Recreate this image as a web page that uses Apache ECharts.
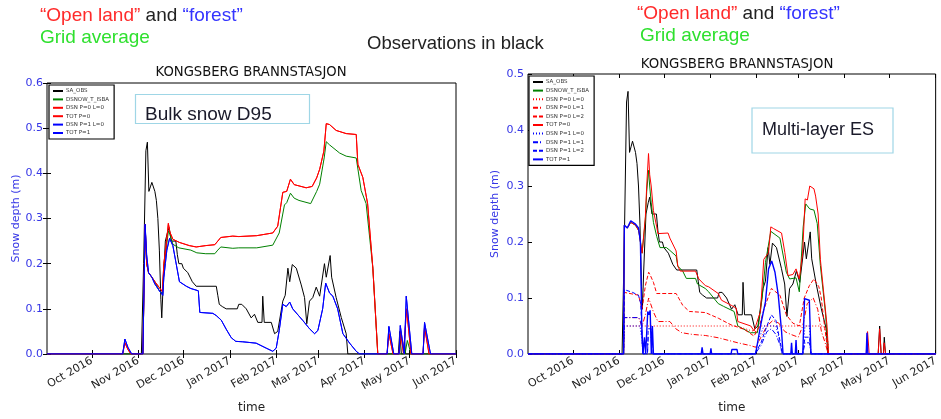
<!DOCTYPE html>
<html>
<head>
<meta charset="utf-8">
<script src="https://cdn.jsdelivr.net/npm/echarts@6/dist/echarts.min.js"></script>
<style>html,body{margin:0;padding:0;background:#fff}#c{width:941px;height:419px}</style>
</head>
<body>
<div id="c"></div>
<script>
// x values: days since 1 Sep 2016
const TICK_DAYS = [30, 61, 91, 122, 153, 181, 212, 242, 273];
const TICK_LABELS = ['Oct 2016','Nov 2016','Dec 2016','Jan 2017','Feb 2017','Mar 2017','Apr 2017','May 2017','Jun 2017'];
const Y_TICKS_LEFT = [0, 0.1, 0.2, 0.3, 0.4, 0.5, 0.6];
const Y_TICKS_RIGHT = [0, 0.1, 0.2, 0.3, 0.4, 0.5];

const LEGEND_LEFT = ['SA_OBS','DSNOW_T_ISBA','DSN P=0 L=0','TOT P=0','DSN P=1 L=0','TOT P=1'];
const LEGEND_RIGHT = ['SA_OBS','DSNOW_T_ISBA','DSN P=0 L=0','DSN P=0 L=1','DSN P=0 L=2','TOT P=0','DSN P=1 L=0','DSN P=1 L=1','DSN P=1 L=2','TOT P=1'];

// Observations (same station in both panels)
const SA_OBS = [[0,0],[63,0],[64.5,0.2],[66,0.45],[67,0.469],[68,0.36],[69,0.37],[70,0.38],[71,0.38],[72,0.36],[73,0.34],[74,0.3],[75,0.23],[76,0.12],[76.6,0.08],[77.5,0.15],[79,0.25],[80.5,0.27],[81.5,0.28],[83,0.25],[86,0.25],[87,0.22],[88,0.2],[90,0.2],[91,0.19],[94,0.18],[97,0.16],[99.6,0.15],[113,0.15],[114,0.13],[115,0.11],[117,0.105],[119.6,0.1],[127,0.1],[128,0.11],[130,0.11],[133,0.1],[136.3,0.08],[138.5,0.088],[140.7,0.07],[143.5,0.07],[144,0.128],[145,0.07],[149.7,0.07],[151.9,0.045],[154,0.05],[157.4,0.117],[159,0.13],[160.8,0.19],[162,0.16],[163.7,0.198],[166.4,0.19],[169.7,0.153],[171.9,0.125],[173.4,0.067],[175.2,0.117],[177.4,0.125],[179.7,0.148],[182,0.128],[185.2,0.2],[186.4,0.17],[189,0.218],[190,0.17],[193,0.125],[196.4,0.081],[199.7,0.045],[200.8,0],[234.5,0],[235.5,0.05],[236.5,0],[238,0],[238.6,0.03],[239.4,0],[273,0]];

// Bulk snow D95 panel
const BULK_ISBA = [[0,0],[64,0],[65.5,0.287],[66.5,0.2],[67.8,0.18],[70,0.17],[72,0.16],[75,0.14],[77,0.135],[78,0.19],[79.5,0.23],[81,0.272],[82,0.265],[84,0.243],[88,0.235],[96,0.23],[100,0.224],[106,0.222],[112,0.222],[114,0.23],[116,0.237],[124,0.234],[128,0.235],[140,0.235],[150.7,0.241],[155,0.268],[158.5,0.33],[160,0.335],[162.5,0.356],[165,0.345],[168.2,0.34],[176,0.333],[180,0.36],[182,0.376],[185,0.434],[186.4,0.47],[188.6,0.463],[195.3,0.445],[199.7,0.438],[206.4,0.434],[209.7,0.362],[213,0.333],[217.5,0.19],[220.8,0],[239,0],[240.5,0.03],[243,0],[273,0]];
const BULK_P0 = [[0,0],[50.5,0],[52,0.025],[54,0.01],[56,0],[64,0],[65.5,0.287],[66.5,0.2],[67.8,0.18],[70,0.17],[72,0.16],[75,0.147],[77,0.138],[78,0.2],[79.5,0.24],[81,0.289],[82,0.27],[84,0.254],[88.4,0.247],[95,0.24],[99.6,0.237],[106,0.24],[112,0.242],[114,0.25],[116,0.258],[124,0.261],[128,0.26],[140,0.262],[150.7,0.268],[154,0.283],[157.4,0.358],[160,0.36],[162.5,0.387],[165,0.375],[173,0.368],[177,0.371],[180,0.39],[182,0.409],[184.8,0.449],[186.4,0.51],[188.6,0.508],[193,0.495],[199.7,0.488],[206.4,0.486],[207.5,0.42],[210.8,0.391],[214,0.333],[217.5,0.19],[220.8,0],[227,0],[228.2,0.045],[231,0],[235,0],[236,0.05],[238,0],[239,0],[240,0.1],[243,0],[251,0],[252,0.06],[255,0],[273,0]];
const BULK_P1 = [[0,0],[50.5,0],[52,0.033],[54,0.015],[56.5,0],[64,0],[65.5,0.287],[66.5,0.22],[67.8,0.18],[70,0.17],[72,0.155],[75,0.14],[77.3,0.13],[78,0.17],[79,0.2],[80,0.23],[81.8,0.256],[84,0.24],[86,0.204],[88.4,0.16],[93,0.15],[96,0.145],[101,0.14],[102,0.092],[110.7,0.09],[113,0.085],[116.3,0.075],[119.6,0.055],[123,0.036],[126,0.028],[130.7,0.027],[139.6,0.024],[146.3,0.013],[150.7,0.006],[153,0.013],[155,0.052],[157.4,0.11],[159.7,0.105],[162,0.115],[164,0.1],[170.8,0.074],[175.2,0.056],[178.6,0.045],[180.8,0.052],[184,0.1],[186,0.157],[188.6,0.135],[190.8,0.128],[194,0.1],[197.5,0.045],[202,0.024],[206.4,0.006],[208.6,0],[227,0],[228.2,0.061],[231.5,0],[235,0],[235.8,0.063],[238.5,0],[239,0],[239.8,0.128],[243.5,0],[251,0],[252,0.07],[256,0],[273,0]];

// Multi-layer ES panel
const ES_ISBA = [[0,0],[64,0],[64.5,0.23],[66.5,0.225],[68.8,0.235],[70,0.238],[72,0.23],[74.2,0.22],[76.4,0.18],[78.6,0.24],[79.5,0.29],[80.7,0.328],[81.5,0.3],[82.5,0.27],[84,0.235],[86.2,0.21],[88.4,0.19],[92.7,0.19],[95,0.185],[99.2,0.175],[100.3,0.157],[103.6,0.148],[106,0.135],[112.2,0.135],[113.5,0.125],[118.7,0.117],[121,0.111],[127.4,0.09],[131,0.085],[138,0.076],[140.5,0.05],[149,0.038],[153.6,0.038],[156.8,0.1],[159,0.163],[162.6,0.219],[168.7,0.207],[173,0.146],[175.2,0.134],[179.5,0.136],[181.7,0.111],[184.3,0.227],[186,0.268],[188.7,0.259],[191.5,0.257],[193.7,0.233],[195.8,0.158],[199.1,0.076],[201.3,0],[273,0]];
const ES_TOT_P0 = [[0,0],[64,0],[64.5,0.23],[66.5,0.225],[68.8,0.235],[70,0.238],[72,0.23],[74.2,0.22],[76.4,0.18],[78.6,0.245],[79.5,0.3],[80.7,0.358],[81.5,0.32],[82.5,0.3],[84,0.256],[86.2,0.227],[87,0.215],[93.8,0.216],[95,0.207],[99.2,0.184],[100.3,0.157],[102,0.148],[112.2,0.148],[114.4,0.134],[118.8,0.122],[121,0.12],[127.4,0.108],[129.6,0.096],[136.1,0.087],[139.4,0.082],[140.5,0.058],[149.2,0.05],[151.4,0.041],[155.7,0.076],[157.9,0.169],[161.1,0.181],[162.6,0.227],[164.4,0.224],[169.8,0.216],[172,0.181],[174.1,0.14],[177.4,0.142],[179.5,0.152],[181.7,0.134],[183.9,0.18],[185.6,0.277],[187.1,0.275],[188.7,0.3],[191.5,0.295],[192.6,0.282],[194.3,0.25],[195.8,0.169],[198,0.11],[200.2,0.052],[201.3,0],[226.5,0],[227.4,0.04],[228.5,0],[234.5,0],[235.5,0.045],[236.5,0],[238,0],[238.5,0.02],[239.5,0],[273,0]];
const ES_P0_L0 = [[0,0],[64,0],[64.5,0.05],[140,0.05],[149,0.042],[153,0.04],[156,0.05],[198,0.05],[200.5,0.03],[201.3,0],[273,0]];
const ES_P0_L1 = [[0,0],[64,0],[64.5,0.065],[74,0.065],[76.4,0.05],[78.6,0.07],[80.8,0.1],[84,0.075],[87,0.058],[95,0.058],[99,0.045],[103,0.038],[110,0.035],[119,0.033],[127.4,0.029],[140.5,0.02],[149,0.015],[152.5,0.012],[156,0.03],[160,0.05],[164,0.06],[168,0.055],[172,0.04],[176,0.035],[181,0.03],[184,0.05],[187,0.09],[191,0.1],[194,0.08],[196.5,0.04],[199,0.02],[201,0],[273,0]];
const ES_P0_L2 = [[0,0],[64,0],[64.5,0.11],[74,0.105],[76.4,0.08],[78.6,0.122],[80.8,0.146],[82,0.14],[84,0.128],[86.2,0.108],[99.2,0.108],[103.6,0.087],[108,0.076],[118.8,0.074],[127.4,0.064],[136,0.052],[144.8,0.044],[151.4,0.032],[155,0.05],[158,0.08],[163,0.117],[168.7,0.105],[173,0.07],[177.4,0.055],[181.7,0.05],[185,0.1],[188.4,0.122],[191.5,0.134],[194.8,0.12],[196.4,0.1],[198.6,0.05],[201,0],[273,0]];
const ES_TOT_P1 = [[0,0],[64,0],[64.5,0.23],[66.5,0.225],[68.8,0.238],[70,0.24],[72,0.232],[74,0.225],[75.3,0.2],[76.2,0.05],[77,0],[78,0.03],[78.8,0],[79.6,0],[80.2,0.076],[81,0.07],[81.8,0.078],[82.6,0],[83.3,0.05],[84,0],[116,0],[116.6,0.012],[117.2,0],[122,0],[122.5,0.01],[123,0],[136,0],[136.5,0.008],[140,0.008],[140.5,0],[152.4,0],[155.7,0.05],[159,0.093],[161.1,0.152],[163.2,0.166],[165.4,0.146],[167.6,0.105],[169.8,0.041],[170.8,0],[176,0],[176.5,0.02],[177,0],[179,0],[179.5,0.025],[180,0],[184,0],[185.2,0.099],[188.4,0.096],[189.5,0],[226.5,0],[227,0.038],[227.6,0],[273,0]];
const ES_P1_L0 = [[0,0],[64,0],[64.5,0.05],[75,0.05],[76,0.03],[77,0],[152,0],[155,0.03],[158,0.05],[166,0.05],[168,0.03],[170,0],[184,0],[185.5,0.05],[188.5,0.05],[189.5,0],[273,0]];
const ES_P1_L1 = [[0,0],[64,0],[64.5,0.065],[74,0.065],[75.5,0.06],[77,0],[80,0],[80.5,0.03],[82.5,0.03],[83,0],[152,0],[156,0.015],[160,0.04],[163,0.045],[166,0.035],[169,0.015],[170.5,0],[184,0],[185.5,0.02],[188.5,0.02],[189.5,0],[273,0]];
const ES_P1_L2 = [[0,0],[64,0],[64.5,0.115],[70,0.11],[74,0.105],[75.5,0.09],[77,0],[80,0],[80.5,0.045],[82.5,0.045],[83,0],[152,0],[156,0.02],[160,0.05],[163,0.07],[166,0.06],[169,0.02],[170.5,0],[184,0],[185.5,0.03],[188.5,0.03],[189.5,0],[273,0]];

const BLACK = '#000000', GREEN = '#008000', RED = '#ff0000', BLUE = '#0000ff';
const DOT = [1, 2], DASHDOT = [5, 2, 1, 2], DASH = [4, 2];
const AX_BLUE = '#3535e6';
const FONT = 'DejaVu Sans';

function mk(name, data, color, grid, type, width) {
  return {
    name, type: 'line', data, color, symbol: 'none', showSymbol: false,
    xAxisIndex: grid === 0 ? 0 : 2, yAxisIndex: grid === 0 ? 0 : 2,
    lineStyle: { color, width: width || 1, type: type || 'solid' },
    emphasis: { disabled: true }, animation: false, silent: true
  };
}

function xAx(grid, pos) {
  const bottom = pos === 'bottom';
  return {
    type: 'value', gridIndex: grid, position: pos, min: 0, max: 273,
    axisLine: { show: false },
    splitLine: { show: false },
    axisTick: { show: true, inside: true, length: 4, customValues: TICK_DAYS, lineStyle: { color: '#000' } },
    axisLabel: {
      show: bottom, customValues: TICK_DAYS, rotate: 30, margin: 6,
      color: '#222', fontFamily: FONT, fontSize: 11,
      formatter: v => { const i = TICK_DAYS.indexOf(Math.round(v)); return i >= 0 ? TICK_LABELS[i] : ''; }
    },
    name: bottom ? 'time' : '', nameLocation: 'middle', nameGap: 48,
    nameTextStyle: { color: '#222', fontFamily: FONT, fontSize: 12 }
  };
}

function yAx(grid, pos, ticks) {
  const left = pos === 'left';
  return {
    type: 'value', gridIndex: grid, position: pos, min: 0, max: ticks[ticks.length - 1], interval: 0.1,
    axisLine: { show: false }, splitLine: { show: false },
    axisTick: { show: true, inside: true, length: 4, lineStyle: { color: '#000' } },
    axisLabel: { show: left, color: AX_BLUE, fontFamily: FONT, fontSize: 11, margin: 4, formatter: v => v.toFixed(1) },
    name: left ? 'Snow depth (m)' : '', nameLocation: 'middle', nameRotate: 90, nameGap: grid === 0 ? 25 : 27,
    nameTextStyle: { color: AX_BLUE, fontFamily: FONT, fontSize: 11 }
  };
}

const legendBase = {
  orient: 'vertical', itemWidth: 10, itemHeight: 6, itemGap: 2.4,
  borderColor: '#000', borderWidth: 1.2, backgroundColor: '#fff',
  padding: [3, 5, 3, 3], selectedMode: false,
  itemStyle: { opacity: 0 },
  textStyle: { fontSize: 5.5, color: '#333', fontFamily: FONT, padding: [0, 0, 0, -2] }
};

const chart = echarts.init(document.getElementById('c'), null, { renderer: 'canvas' });
chart.setOption({
  backgroundColor: '#fff',
  animation: false,
  grid: [
    { left: 47, top: 83, width: 409, height: 278, show: true, borderColor: '#000', borderWidth: 1, backgroundColor: 'transparent' },
    { left: 528, top: 74, width: 419, height: 286, show: true, borderColor: '#000', borderWidth: 1, backgroundColor: 'transparent' }
  ],
  xAxis: [xAx(0, 'bottom'), xAx(0, 'top'), xAx(1, 'bottom'), xAx(1, 'top')],
  yAxis: [yAx(0, 'left', Y_TICKS_LEFT), yAx(0, 'right', Y_TICKS_LEFT), yAx(1, 'left', Y_TICKS_RIGHT)],
  legend: [
    Object.assign({}, legendBase, { left: 49, top: 85, data: LEGEND_LEFT }),
    Object.assign({}, legendBase, { left: 529, top: 76, itemGap: 2.6,
      data: LEGEND_RIGHT.map(n => {
        if (n === 'DSN P=0 L=0' || n === 'DSN P=1 L=0') return { name: n, lineStyle: { type: DOT } };
        return { name: n };
      }) })
  ],
  series: [
    mk('SA_OBS', SA_OBS, BLACK, 0),
    mk('DSNOW_T_ISBA', BULK_ISBA, GREEN, 0),
    mk('DSN P=0 L=0', BULK_P0, RED, 0),
    mk('TOT P=0', BULK_P0, RED, 0),
    mk('DSN P=1 L=0', BULK_P1, BLUE, 0),
    mk('TOT P=1', BULK_P1, BLUE, 0),

    mk('SA_OBS', SA_OBS, BLACK, 1),
    mk('DSNOW_T_ISBA', ES_ISBA, GREEN, 1),
    mk('DSN P=0 L=0', ES_P0_L0, RED, 1, DOT),
    mk('DSN P=0 L=1', ES_P0_L1, RED, 1, DASHDOT),
    mk('DSN P=0 L=2', ES_P0_L2, RED, 1, DASH),
    mk('TOT P=0', ES_TOT_P0, RED, 1),
    mk('DSN P=1 L=0', ES_P1_L0, BLUE, 1, DOT),
    mk('DSN P=1 L=1', ES_P1_L1, BLUE, 1, DASHDOT),
    mk('DSN P=1 L=2', ES_P1_L2, BLUE, 1, DASH),
    mk('TOT P=1', ES_TOT_P1, BLUE, 1, 'solid', 1.4)
  ],
  graphic: [
    { type: 'text', left: 40, top: 6, style: { text: '{r|“Open land”} and {b|“forest”}', font: '19px "Liberation Sans"', fill: '#222',
      rich: { r: { fill: '#ff2a2a', font: '19px "Liberation Sans"' }, b: { fill: '#3434ff', font: '19px "Liberation Sans"' } } } },
    { type: 'text', left: 40, top: 28, style: { text: 'Grid average', font: '19px "Liberation Sans"', fill: '#2ee02e' } },
    { type: 'text', left: 637, top: 4, style: { text: '{r|“Open land”} and {b|“forest”}', font: '19px "Liberation Sans"', fill: '#222',
      rich: { r: { fill: '#ff2a2a', font: '19px "Liberation Sans"' }, b: { fill: '#3434ff', font: '19px "Liberation Sans"' } } } },
    { type: 'text', left: 640, top: 26, style: { text: 'Grid average', font: '19px "Liberation Sans"', fill: '#2ee02e' } },
    { type: 'text', left: 367, top: 34, style: { text: 'Observations in black', font: '18.5px "Liberation Sans"', fill: '#222' } },
    { type: 'text', x: 251, y: 73, style: { text: 'KONGSBERG BRANNSTASJON', font: '13.2px "DejaVu Sans"', fill: '#111', align: 'center', verticalAlign: 'middle' } },
    { type: 'text', x: 737, y: 65, style: { text: 'KONGSBERG BRANNSTASJON', font: '13.3px "DejaVu Sans"', fill: '#111', align: 'center', verticalAlign: 'middle' } },
    { type: 'rect', shape: { x: 135.5, y: 94.5, width: 174, height: 29 }, style: { fill: '#fff', stroke: '#9fd6e6', lineWidth: 1.2 }, z: 100 },
    { type: 'text', x: 145, y: 124, style: { text: 'Bulk snow D95', font: '19px "Liberation Sans"', fill: '#1a1a2a', verticalAlign: 'bottom' }, z: 101 },
    { type: 'rect', shape: { x: 752, y: 108, width: 141, height: 45 }, style: { fill: '#fff', stroke: '#9fd6e6', lineWidth: 1.2 }, z: 100 },
    { type: 'text', x: 762, y: 130, style: { text: 'Multi-layer ES', font: '18px "Liberation Sans"', fill: '#1a1a2a', verticalAlign: 'middle' }, z: 101 }
  ]
});
</script>
</body>
</html>
